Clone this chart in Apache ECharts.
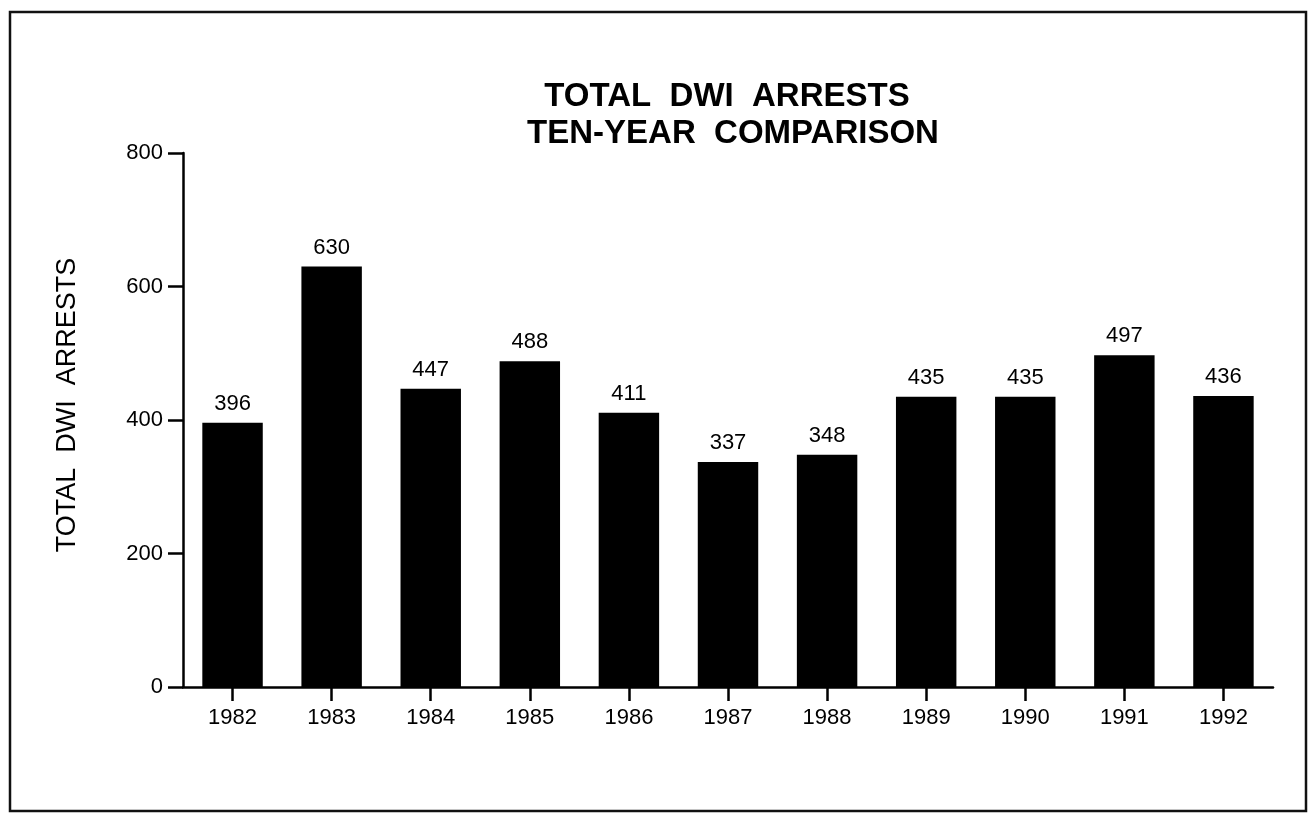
<!DOCTYPE html>
<html>
<head>
<meta charset="utf-8">
<script src="https://cdn.jsdelivr.net/npm/echarts@6/dist/echarts.min.js"></script>
<style>
html,body{margin:0;padding:0;background:#fff;}
#chart{width:1309px;height:816px;}
</style>
</head>
<body>
<div id="chart"></div>
<script>
const categories = ['1982','1983','1984','1985','1986','1987','1988','1989','1990','1991','1992'];
const arrests = [396, 630, 447, 488, 411, 337, 348, 435, 435, 497, 436];
const yTicks = [0, 200, 400, 600, 800];
const titleLines = ['TOTAL  DWI  ARRESTS', 'TEN-YEAR  COMPARISON'];
const yAxisTitle = 'TOTAL  DWI  ARRESTS';

const FONT = '"Liberation Sans", Arial, Helvetica, sans-serif';
const chart = echarts.init(document.getElementById('chart'));
chart.setOption({
  backgroundColor: '#ffffff',
  animation: false,
  graphic: [
    { type: 'rect', shape: { x: 10, y: 12, width: 1296, height: 799 },
      style: { fill: 'none', stroke: '#111', lineWidth: 2.5 }, z: 0 },
    { type: 'text', style: { text: titleLines[0], x: 727, y: 97, align: 'center', verticalAlign: 'middle',
      font: 'bold 33px ' + FONT, fill: '#000' } },
    { type: 'text', style: { text: titleLines[1], x: 733, y: 134, align: 'center', verticalAlign: 'middle',
      font: 'bold 33px ' + FONT, fill: '#000' } }
  ],
  grid: { left: 183, right: 1309 - 1273, top: 153, bottom: 816 - 687, containLabel: false },
  xAxis: {
    type: 'category',
    data: categories,
    axisLine: { show: true, lineStyle: { color: '#000', width: 2.5 } },
    axisTick: { show: true, alignWithLabel: true, length: 14, lineStyle: { color: '#000', width: 2.5 } },
    axisLabel: { color: '#000', fontSize: 22, fontFamily: FONT, margin: 20 },
    splitLine: { show: false }
  },
  yAxis: {
    type: 'value',
    min: 0, max: 800, interval: 200,
    name: yAxisTitle,
    nameLocation: 'middle',
    nameRotate: 90,
    nameGap: 102,
    nameTextStyle: { color: '#000', fontSize: 27, fontFamily: FONT, padding: [0, 0, 0, 30] },
    axisLine: { show: true, lineStyle: { color: '#000', width: 2.5 } },
    axisTick: { show: true, length: 15, lineStyle: { color: '#000', width: 2.5 } },
    axisLabel: { color: '#000', fontSize: 22, fontFamily: FONT, margin: 20,
      customValues: yTicks },
    splitLine: { show: false }
  },
  series: [{
    type: 'bar',
    data: arrests,
    barWidth: '61%',
    itemStyle: { color: '#000' },
    label: { show: true, position: 'top', distance: 8, color: '#000', fontSize: 22, fontFamily: FONT }
  }]
});
</script>
</body>
</html>
